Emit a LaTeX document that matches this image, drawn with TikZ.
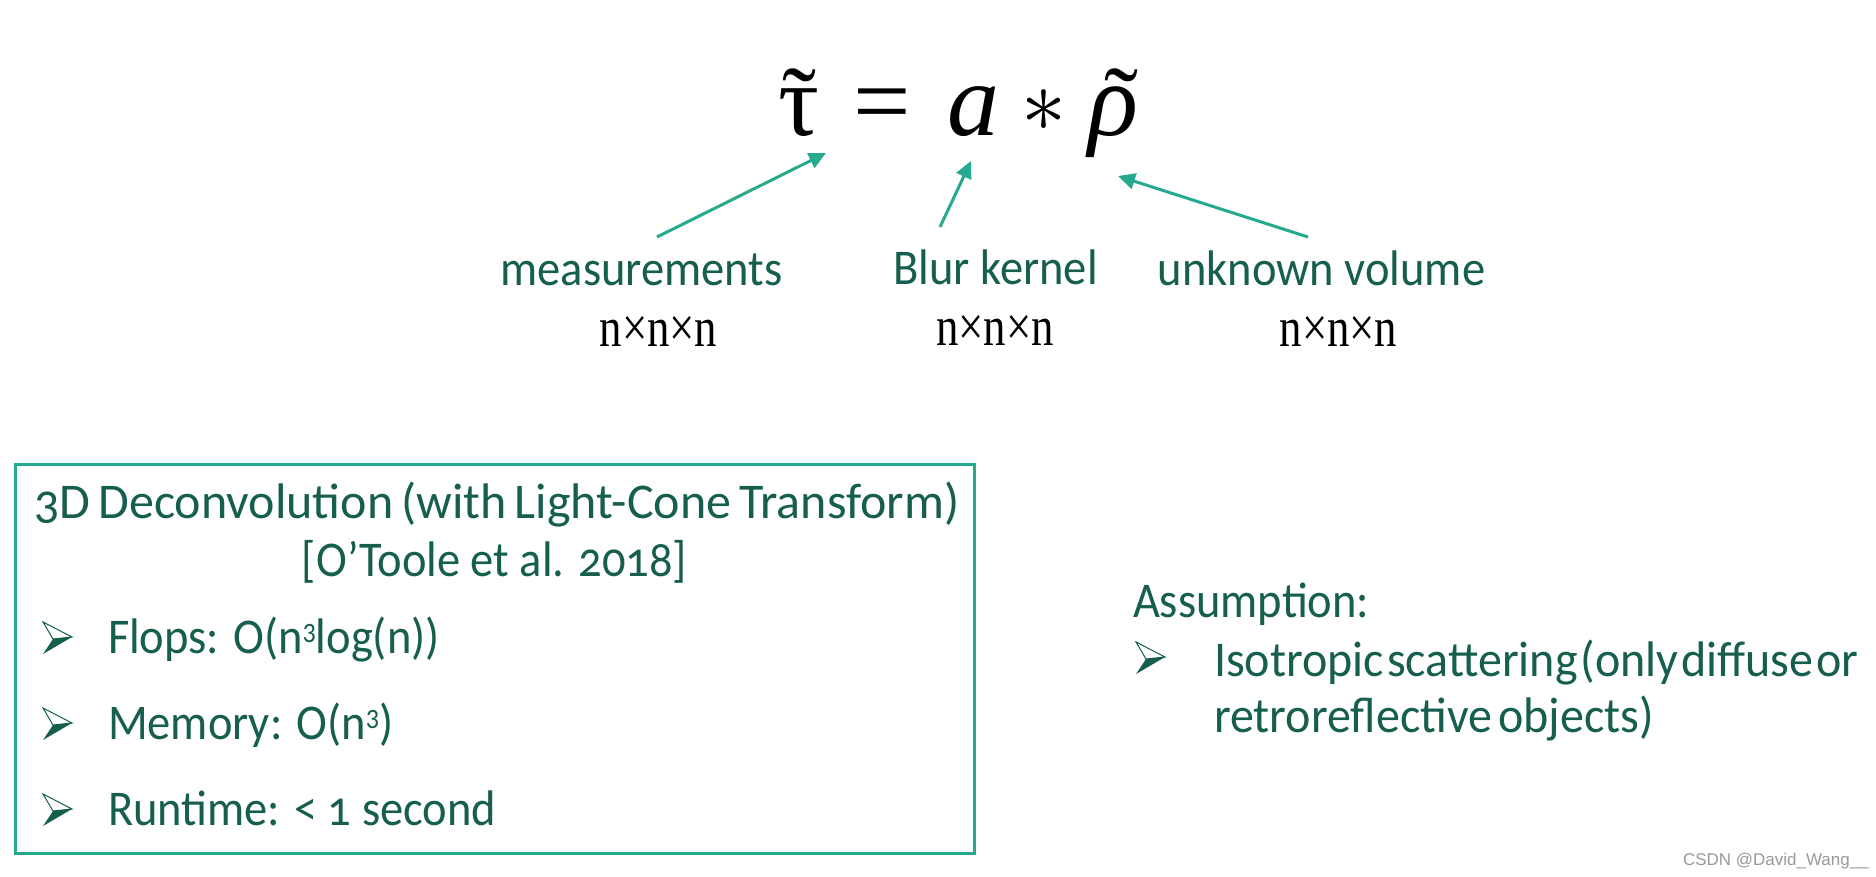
\documentclass[tikz,border=0pt]{standalone}
\usepackage{fontspec}
\setmainfont{Carlito}[Numbers=OldStyle, FakeStretch=0.93]
\newfontfamily\widefont{Carlito}[Numbers=OldStyle, FakeStretch=1.0]
\newfontfamily\midfont{Carlito}[Numbers=OldStyle, FakeStretch=0.96]
\newfontfamily\serifnum{Liberation Serif}[FakeStretch=0.8]
\newfontfamily\eqfont{Liberation Serif}
\newfontfamily\wmfont{Liberation Sans}
\usetikzlibrary{arrows.meta}
\definecolor{txt}{RGB}{22,94,77}
\definecolor{tealc}{RGB}{38,170,143}
\newcommand{\supthree}{\raisebox{11pt}{\fontsize{28}{28}\selectfont\addfontfeatures{Numbers=Lining}3}}
\newcommand{\titlefnt}{\widefont\fontsize{50}{60}\selectfont}
\newcommand{\isofnt}{\midfont\fontsize{50}{60}\selectfont}
\newcommand{\tildeover}[2]{\ooalign{#1\cr\hidewidth\kern#2\raisebox{-2pt}{\eqfont\upshape\fontsize{102}{102}\selectfont ˜}\hidewidth\cr}}
\newskip\myspaceA \myspaceA=8pt
\newskip\myspaceB \myspaceB=3pt
\newskip\myspaceC \myspaceC=6pt
\tikzset{
  every node/.style={inner sep=0pt, outer sep=0pt},
  lab/.style={font=\fontsize{50}{60}\selectfont, text=txt, anchor=base},
  labl/.style={font=\fontsize{50}{60}\selectfont, text=txt, anchor=base west},
  dimtxt/.style={font=\serifnum\fontsize{56}{60}\selectfont, text=black, anchor=base},
  eqg/.style={font=\eqfont\fontsize{102}{102}\selectfont, text=black, anchor=base},
  eqi/.style={font=\eqfont\itshape\fontsize{104}{104}\selectfont, text=black, anchor=base},
  arr/.style={draw=tealc, line width=3pt, -{Triangle[length=17pt,width=16pt]}},
  bul/.pic={
    \fill[txt] (10,17) -- (29,15) -- (0,32) -- cycle;
    \draw[txt, line width=1pt, line join=miter] (0,0) -- (29,15) -- (10,17) -- cycle;
  }
}
\begin{document}
\begin{tikzpicture}[x=1pt,y=-1pt]
\path[use as bounding box, fill=white] (0,0) rectangle (1876,876);

% equation
\node[eqg] (tau) at (799,135) {\tildeover{τ}{0pt}};
\node[eqg] (eq) at (882,135) {=};
\node[eqi] (a) at (973,135) {a};
\node[anchor=base] (star) at (1044,131.5) {\scalebox{9}{$\ast$}};
\node[eqi] (rho) at (1113,135) {\tildeover{ρ}{16pt}};

% labels
\node[lab] (meas) at (641.5,285) {measurements};
\node[lab] (blur) at (995.5,284) {Blur kernel};
\node[lab] (unk) at (1321.5,285) {unknown volume};
\node[dimtxt] (d1) at (658.5,346) {n×n×n};
\node[dimtxt] (d2) at (995,345) {n×n×n};
\node[dimtxt] (d3) at (1338.5,346) {n×n×n};

% arrows
\coordinate (t1) at (657,237);
\coordinate (h1) at (826,153);
\coordinate (t2) at (940,227);
\coordinate (h2) at (971,161);
\coordinate (t3) at (1308,237);
\coordinate (h3) at (1118,176);
\draw[arr] (t1) -- (h1);
\draw[arr] (t2) -- (h2);
\draw[arr] (t3) -- (h3);

% box
\node[draw=tealc, line width=3pt, minimum width=959pt, minimum height=389pt] (box) at (494.5,658.5) {};
\node[lab, font=\titlefnt] (title1) at (497,518) {\spaceskip=\myspaceA 3D Deconvolution (with Light-Cone Transform)};
\node[lab] (title2) at (494.5,576) {[O’Toole et al. 2018]};
\pic at (43,622) {bul};
\pic at (43,708) {bul};
\pic at (43,794) {bul};
\node[labl] (flops) at (108,653) {Flops: O(n\supthree log(n))};
\node[labl] (mem) at (108,739) {Memory: O(n\supthree)};
\node[labl] (run) at (108,825) {Runtime: < 1 second};

% assumption
\node[labl] (ass) at (1133,617) {Assumption:};
\pic at (1136,642) {bul};
\node[labl, font=\isofnt] (iso1) at (1214,676) {\spaceskip=\myspaceB Isotropic scattering (only diffuse or};
\node[labl, font=\isofnt] (iso2) at (1214,732) {\spaceskip=\myspaceC retroreflective objects)};

% watermark
\node[anchor=base west, font=\wmfont\fontsize{17}{17}\selectfont, text=black!40] (wm) at (1683,865) {CSDN @David\_Wang\_\_};
\end{tikzpicture}
\end{document}
